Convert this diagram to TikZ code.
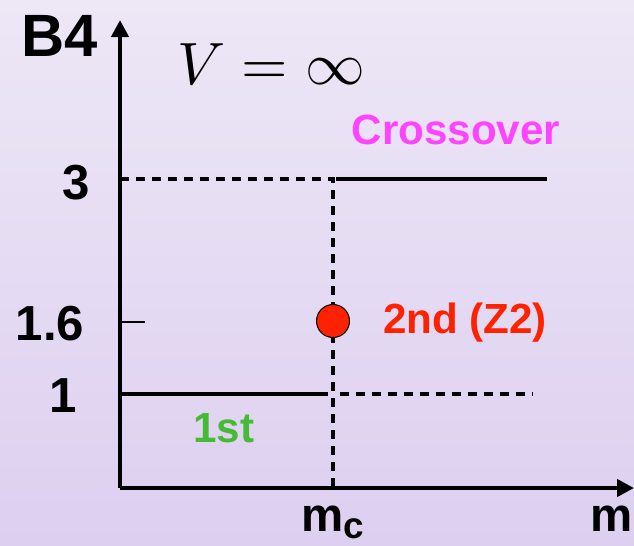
\documentclass[tikz,border=0pt]{standalone}
\usepackage{fontspec}
\newfontfamily\hvfont{Liberation Sans}
\usetikzlibrary{arrows.meta,calc}
\definecolor{bgtop}{RGB}{237,231,246}
\definecolor{bgbot}{RGB}{221,207,240}
\definecolor{zred}{RGB}{255,34,0}
\definecolor{xmag}{RGB}{255,68,255}
\definecolor{fgreen}{RGB}{68,187,51}
\tikzset{
  axis/.style={line width=2.4pt,-{Triangle[length=0.34cm,width=0.34cm]}},
  level/.style={line width=2.3pt},
  guide/.style={line width=2.2pt,dash pattern=on 0.18cm off 0.14cm},
  tick/.style={line width=1.3pt},
  txt/.style={inner sep=0pt,anchor=base,font=\hvfont\bfseries\fontsize{#1}{#1}\selectfont},
  txt/.default=28,
  cp/.style={circle,draw=black,line width=0.6pt,fill=zred,minimum size=0.66cm,inner sep=0pt}
}
\begin{document}
\begin{tikzpicture}[x=0.02cm,y=-0.02cm]
  \useasboundingbox (0,0) rectangle (634,545);
  \shade[top color=bgtop,bottom color=bgbot] (0,0) rectangle (634,545);
  % axes
  \coordinate (o) at (120,488);
  \coordinate (ytip) at (120,20);
  \coordinate (xtip) at (634,488);
  \draw[axis] (o) -- (ytip);
  \draw[axis] (o) -- (xtip);
  % levels
  \coordinate (c3) at (333,179);
  \coordinate (c1) at (333,394);
  \coordinate (c0) at (333,488);
  \coordinate (l3) at (120,179);
  \coordinate (r3) at (547,179);
  \coordinate (l1) at (118,394);
  \coordinate (r1) at (532,394);
  \coordinate (t16) at (120,322);
  \coordinate (t16e) at (145,322);
  \draw[guide] (l3) -- (c3) -- (c0);
  \draw[level] ($(c3)+(3,0)$) -- (r3);
  \draw[level] (l1) -- ($(c1)+(-5,0)$);
  \draw[guide] ($(c1)+(7,0)$) -- (r1);
  \draw[tick] (t16) -- (t16e);
  \node[cp] (cep) at (333,321) {};
  % labels
  \node[txt=34] (b4) at (60,56) {B4};
  \node[inner sep=0pt,anchor=base,scale=3.4] (vinf) at (271,84) {$V=\infty$};
  \node[txt] (y3) at (76,199) {3};
  \node[txt] (y16) at (50,340) {1.6};
  \node[txt] (y1) at (63,412) {1};
  \node[txt=24,text=xmag] (cross) at (456,144) {Crossover};
  \node[txt=24,text=zred] (sec) at (465,333) {2nd (Z2)};
  \node[txt=24,text=fgreen] (first) at (224,442) {1st};
  \node[txt=27] (mc) at (333,531) {m\raisebox{-4pt}{\fontsize{21}{21}\selectfont c}};
  \node[txt=27] (mx) at (612,531) {m};
\end{tikzpicture}
\end{document}
